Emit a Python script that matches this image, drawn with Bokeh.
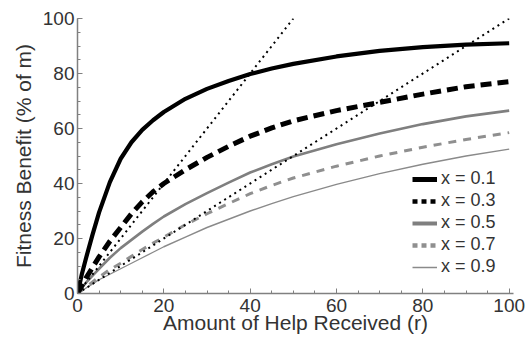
from bokeh.plotting import figure
from bokeh.models import Range1d, SingleIntervalTicker, Legend, LegendItem
from bokeh.embed import file_html
from bokeh.resources import INLINE

# Amount of help received (r)
r = [0, 1, 2, 3.5, 5, 7.5, 10, 12.5, 15, 17.5, 20, 25, 30, 35, 40, 45, 50, 60, 70, 80, 90, 100]
# Fitness benefit (% of m) for each x
x01 = [0, 7, 13, 21.5, 29.5, 40.5, 49, 55, 59.5, 63, 66, 70.8, 74.4, 77.3, 79.8, 81.8, 83.5, 86.2, 88.2, 89.6, 90.5, 91]
x03 = [0, 2.8, 5.7, 9.5, 13.3, 19, 24, 29, 33.3, 37, 40, 45, 49.5, 53.5, 57.2, 60.2, 62.8, 66.5, 69.5, 72.5, 75.2, 77]
x05 = [0, 2, 4, 6.5, 9, 13, 16.5, 19.5, 22.5, 25.3, 28, 32.5, 36.5, 40.3, 44, 47, 49.8, 54.3, 58.2, 61.6, 64.4, 66.5]
x07 = [0, 1.2, 2.4, 4.2, 6, 8.7, 11, 13.5, 16, 18.3, 20.5, 25, 29, 32.7, 36.3, 39.3, 42, 46.3, 50, 53.2, 56, 58.5]
x09 = [0, 1, 2, 3.5, 5, 7, 9, 11, 13, 15, 17, 20.5, 24, 27, 30, 32.7, 35.2, 39.7, 43.6, 47, 50, 52.5]
labels = ["x = 0.1", "x = 0.3", "x = 0.5", "x = 0.7", "x = 0.9"]

# reference (dotted) lines through the origin
ref2_r = [0, 50]
ref2_v = [0, 100]
ref1_r = [0, 100]
ref1_v = [0, 100]

# off-range points, used only to carry the legend glyph styles
hidden_r = [200, 201]
hidden_v = [200, 200]

FONT = "Liberation Sans"
TXT = "#333333"
AX = "#808080"

p = figure(width=528, height=341, output_backend="svg", toolbar_location=None,
           x_range=Range1d(0, 101), y_range=Range1d(0, 100),
           min_border_left=77, min_border_right=15, min_border_top=18, min_border_bottom=48)
p.outline_line_color = None
p.xgrid.visible = False
p.ygrid.visible = False
p.background_fill_color = "white"

# curves
p.line(r, x09, line_color="#8a8a8a", line_width=1.4)
p.line(r, x07, line_color="#8f8f8f", line_width=3, line_dash="8 7")
p.line(r, x05, line_color="#7f7f7f", line_width=2.6)
p.line(ref1_r, ref1_v, line_color="black", line_width=2, line_dash="2 4")
p.line(ref2_r, ref2_v, line_color="black", line_width=2, line_dash="2 4")
p.line(r, x03, line_color="black", line_width=5, line_dash="11 6")
p.line(r, x01, line_color="black", line_width=4.2, line_join="round")

# legend glyphs
g1 = p.line(hidden_r, hidden_v, line_color="black", line_width=5)
g3 = p.line(hidden_r, hidden_v, line_color="black", line_width=4.5, line_dash="5 4")
g5 = p.line(hidden_r, hidden_v, line_color="#7f7f7f", line_width=4)
g7 = p.line(hidden_r, hidden_v, line_color="#8f8f8f", line_width=4.5, line_dash="5 4")
g9 = p.line(hidden_r, hidden_v, line_color="#8a8a8a", line_width=1.5)

legend = Legend(items=[LegendItem(label=l, renderers=[g]) for l, g in zip(labels, [g1, g3, g5, g7, g9])],
                location=(335, 16), orientation="vertical",
                glyph_width=25, glyph_height=20, label_height=20, spacing=1, padding=0, margin=0,
                label_standoff=4, border_line_color=None, background_fill_alpha=0,
                label_text_font=FONT, label_text_font_size="18px", label_text_color=TXT)
p.add_layout(legend)

for ax in (p.xaxis[0], p.yaxis[0]):
    ax.ticker = SingleIntervalTicker(interval=20, num_minor_ticks=4)
    ax.axis_line_color = AX
    ax.axis_line_width = 1.5
    ax.major_tick_line_color = AX
    ax.minor_tick_line_color = AX
    ax.major_tick_in = 5
    ax.major_tick_out = 0
    ax.minor_tick_in = 3
    ax.minor_tick_out = 0
    ax.major_label_text_font = FONT
    ax.major_label_text_font_size = "19px"
    ax.major_label_text_color = TXT
    ax.axis_label_text_font = FONT
    ax.axis_label_text_font_size = "21px"
    ax.axis_label_text_font_style = "normal"
    ax.axis_label_text_color = TXT

p.xaxis.axis_label = "Amount of Help Received (r)"
p.yaxis.axis_label = "Fitness Benefit (% of m)"
p.xaxis.major_label_standoff = 5
p.xaxis.axis_label_standoff = -4
p.yaxis.major_label_standoff = 3
p.yaxis.axis_label_standoff = 5

open("out.html", "w").write(file_html(p, INLINE))
